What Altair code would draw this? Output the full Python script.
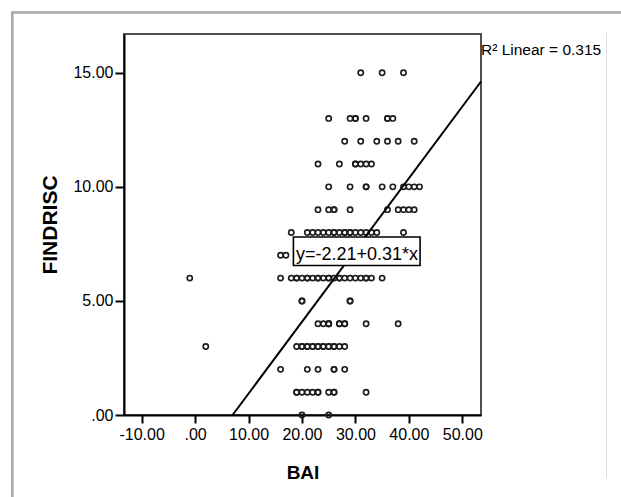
import altair as alt
import pandas as pd

# ---- data (BAI score per FINDRISC level) ----
findrisc_levels = [15, 13, 12, 11, 10, 9, 8, 7, 6, 5, 4, 3, 2, 1, 0]
bai_at_15 = [31, 35, 39]
bai_at_13 = [25, 29, 30, 30, 32, 36, 36, 37]
bai_at_12 = [28, 31, 34, 36, 38, 41]
bai_at_11 = [23, 27, 30, 30, 31, 32, 33]
bai_at_10 = [25, 29, 32, 32, 35, 37, 39, 40, 41, 42]
bai_at_9 = [23, 25, 26, 26, 29, 36, 38, 39, 40, 41]
bai_at_8 = [18, 21, 22, 23, 24, 25, 26, 26, 27, 28, 28, 29, 29, 30, 31, 32, 33, 34, 39]
bai_at_7 = [16, 17, 22, 25, 28]
bai_at_6 = [-1, 16, 18, 19, 19, 20, 21, 21, 22, 23, 23, 24, 25, 25, 26, 27, 27, 28,
            29, 30, 31, 32, 32, 33, 35]
bai_at_5 = [20, 20, 29, 29]
bai_at_4 = [23, 24, 25, 25, 25, 27, 27, 28, 28, 32, 38]
bai_at_3 = [2, 19, 20, 20, 21, 21, 22, 22, 23, 23, 24, 24, 25, 25, 26, 26, 27, 28]
bai_at_2 = [16, 21, 23, 26, 26, 28]
bai_at_1 = [19, 19, 20, 21, 22, 23, 23, 25, 26, 26, 32]
bai_at_0 = [20, 25]

bai_rows = [bai_at_15, bai_at_13, bai_at_12, bai_at_11, bai_at_10, bai_at_9, bai_at_8,
            bai_at_7, bai_at_6, bai_at_5, bai_at_4, bai_at_3, bai_at_2, bai_at_1, bai_at_0]

x_ticks = [-10, 0, 10, 20, 30, 40, 50]
y_ticks = [0, 5, 10, 15]
x_domain = [-13.3, 53.5]
y_domain = [0, 16.7]

fit_intercept = -2.207
fit_slope = 0.3145
equation_label = "y=-2.21+0.31*x"
r2_label = "R² Linear = 0.315"

# ---- tables ----
pts = pd.DataFrame(
    [{"BAI": b, "FINDRISC": f} for f, row in zip(findrisc_levels, bai_rows) for b in row]
)
x_start = -fit_intercept / fit_slope
fit_df = pd.DataFrame({
    "BAI": [x_start, x_domain[1]],
    "FINDRISC": [0.0, fit_intercept + fit_slope * x_domain[1]],
})
box_df = pd.DataFrame({"x": [18.4], "x2": [42.1], "y": [7.8], "y2": [6.55]})
eq_df = pd.DataFrame({"x": [30.3], "y": [6.8], "t": [equation_label]})
r2_df = pd.DataFrame({"x": [53.5], "y": [15.78], "t": [r2_label]})
dummy = pd.DataFrame({"a": [0]})

FONT = "Liberation Sans"

xs = alt.Scale(domain=x_domain, nice=False, zero=False)
ys = alt.Scale(domain=y_domain, nice=False, zero=False)

x_axis = alt.Axis(
    values=x_ticks,
    labelExpr="datum.value == 0 ? '.00' : (datum.value < 0 ? '-' + format(-datum.value, '.2f') : format(datum.value, '.2f'))",
    title="BAI", titleY=63, titleBaseline="alphabetic", titleFontSize=19,
    tickSize=8, labelPadding=3,
)
y_axis = alt.Axis(
    values=y_ticks,
    labelExpr="datum.value == 0 ? '.00' : format(datum.value, '.2f')",
    title="FINDRISC", titleX=-68, titleBaseline="alphabetic", titleFontSize=21,
    tickSize=9, labelPadding=2,
)

frame = alt.Chart(dummy).mark_rect(fill=None, stroke="#a9a9a9", strokeWidth=2.5).encode(
    x=alt.value(-111.7), x2=alt.value(620), y=alt.value(-21.5), y2=alt.value(600)
)
faint = alt.Chart(dummy).mark_rule(color="#dcdcdc", strokeWidth=1).encode(
    x=alt.value(482.5), y=alt.value(-1), y2=alt.value(444)
)

points = alt.Chart(pts).mark_point(
    shape="circle", filled=False, size=27, stroke="#1e1e1e", strokeWidth=1.7, opacity=1
).encode(
    x=alt.X("BAI:Q", scale=xs, axis=x_axis),
    y=alt.Y("FINDRISC:Q", scale=ys, axis=y_axis),
)

fit = alt.Chart(fit_df).mark_line(color="black", strokeWidth=2).encode(
    x=alt.X("BAI:Q", scale=xs), y=alt.Y("FINDRISC:Q", scale=ys)
)

box = alt.Chart(box_df).mark_rect(fill="white", stroke="black", strokeWidth=1.6).encode(
    x=alt.X("x:Q", scale=xs), x2="x2:Q", y=alt.Y("y:Q", scale=ys), y2="y2:Q"
)
eq = alt.Chart(eq_df).mark_text(
    font=FONT, fontSize=18, align="center", baseline="alphabetic", color="black"
).encode(x=alt.X("x:Q", scale=xs), y=alt.Y("y:Q", scale=ys), text="t:N")

r2 = alt.Chart(r2_df).mark_text(
    font=FONT, fontSize=15.5, align="left", baseline="alphabetic", color="black", dx=0
).encode(x=alt.X("x:Q", scale=xs), y=alt.Y("y:Q", scale=ys), text="t:N")

chart = alt.layer(frame, faint, points, fit, box, eq, r2).properties(
    width=357, height=381,
    autosize=alt.AutoSizeParams(type="none"),
    padding={"left": 124, "top": 34, "right": 140, "bottom": 82},
    background="white",
).configure_view(
    stroke="#505050", strokeWidth=2
).configure_axis(
    grid=False, domainColor="black", domainWidth=2, tickColor="black", tickWidth=2,
    labelFont=FONT, labelFontSize=16, labelColor="black",
    titleFont=FONT, titleFontWeight="bold", titleColor="black",
)

chart.save("out.html", embed_options={"renderer": "svg", "actions": False})
